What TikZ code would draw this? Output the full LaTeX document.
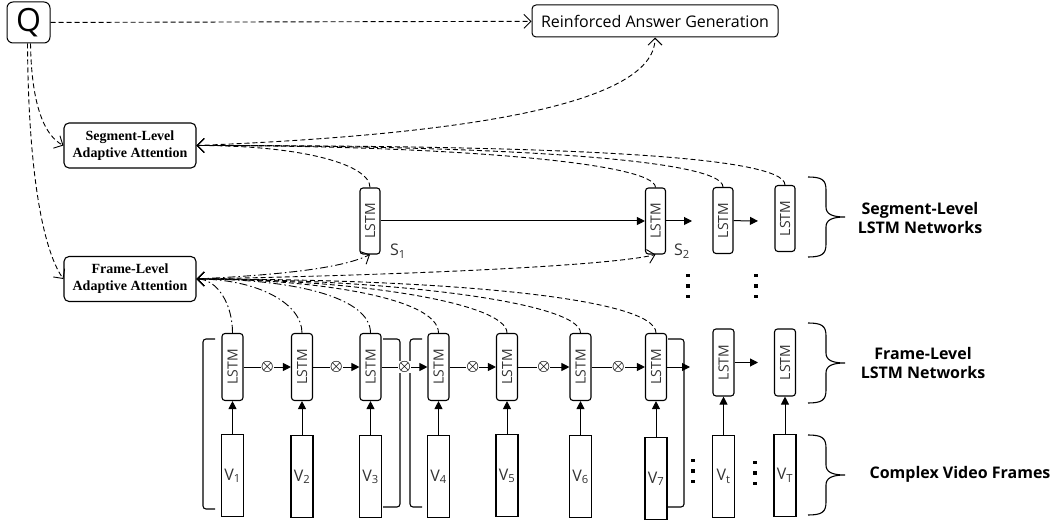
\documentclass[tikz,border=0pt]{standalone}
\usepackage{fontspec}
\setsansfont{Open Sans}
\newfontfamily\fonteSerif{Liberation Serif}
\usepackage{graphicx}
\usepackage{tikz}
\usetikzlibrary{arrows.meta,positioning}
\tikzset{
    celula/.style={
        draw,
        rounded corners=3pt,
        line width=1.1pt,
        minimum width=20pt,
        minimum height=66pt,
        inner sep=0pt,
        text=black!80,
        font=\sffamily\fontsize{14}{14}\selectfont
    },
    quadro/.style={
        draw,
        line width=1.2pt,
        minimum width=22pt,
        minimum height=82pt,
        inner sep=0pt,
        text=black!80,
        font=\sffamily\fontsize{16}{16}\selectfont
    },
    atencao/.style={
        draw,
        rounded corners=5pt,
        line width=1.1pt,
        minimum width=132pt,
        minimum height=45pt,
        align=center,
        font=\fonteSerif\bfseries\fontsize{14}{17}\selectfont
    },
    caixa/.style={draw, rounded corners=4pt, line width=1pt, inner sep=0pt, font=\sffamily},
    rotulo/.style={font=\sffamily\bfseries\fontsize{16}{19}\selectfont, align=center},
    estado/.style={font=\sffamily\fontsize{16}{16}\selectfont, text=black!80},
    produto/.style={inner sep=0pt, fill=white, font=\boldmath\fontsize{15}{15}\selectfont},
    fluxo/.style={-{Triangle[length=8pt,width=8pt]}, line width=1pt},
    tracejado/.style={-{Straight Barb[length=7pt,width=14pt]}, line width=0.9pt, dash pattern=on 5pt off 3pt},
    pontotraco/.style={-{Straight Barb[length=7pt,width=14pt]}, line width=0.9pt, dash pattern=on 8pt off 3pt on 1.5pt off 3pt},
    colchete/.style={line width=1.1pt, rounded corners=3pt},
    chave/.pic={
        \draw[line width=1.1pt] (0,0) .. controls (14,0) and (18,3) .. (18,13) -- (18,30)
            .. controls (18,37) and (24,40) .. (37,40) .. controls (24,40) and (18,43) .. (18,50)
            -- (18,67) .. controls (18,77) and (14,80) .. (0,80);
    },
    pontos/.pic={
        \fill (-1.7,-12.2) rectangle (1.7,-8.8);
        \fill (-1.7,-1.7) rectangle (1.7,1.7);
        \fill (-1.7,8.8) rectangle (1.7,12.2);
    }
}

\begin{document}
\begin{tikzpicture}[x=1pt, y=-1pt]
        \useasboundingbox (0,0) rectangle (1055,521);

        % topo
        \node[caixa, rounded corners=6pt, minimum width=43pt, minimum height=41pt, font=\sffamily\fontsize{32}{32}\selectfont] (pergunta) at (28.5,22.5) {Q};
        \node[caixa, minimum width=246pt, minimum height=32pt, font=\sffamily\fontsize{16}{16}\selectfont] (resposta) at (655,21) {Reinforced Answer Generation};
        \node[atencao] (atSeg) at (130,145.5) {Segment-Level\\Adaptive Attention};
        \node[atencao] (atQuadro) at (130,279) {Frame-Level\\Adaptive Attention};

        % LSTM de segmentos
        \node[celula] (s1) at (370,221) {\rotatebox{90}{LSTM}};
        \node[celula] (s2) at (655.5,221) {\rotatebox{90}{LSTM}};
        \node[celula] (s3) at (723,220.5) {\rotatebox{90}{LSTM}};
        \node[celula] (s4) at (785,218.5) {\rotatebox{90}{LSTM}};
        \node[estado] (rotS1) at (398,251) {S\textsubscript{1}};
        \node[estado] (rotS2) at (682,251) {S\textsubscript{2}};
        \coordinate (fimS2) at (692,221);
        \coordinate (fimS3) at (758,221);

        % LSTM de quadros
        \node[celula, minimum width=21pt, minimum height=67pt] (f1) at (232.5,367) {\rotatebox{90}{LSTM}};
        \node[celula, minimum width=21pt, minimum height=67pt] (f2) at (302,367) {\rotatebox{90}{LSTM}};
        \node[celula, minimum width=21pt, minimum height=67pt] (f3) at (370.5,367) {\rotatebox{90}{LSTM}};
        \node[celula, minimum width=21pt, minimum height=67pt] (f4) at (438.5,367) {\rotatebox{90}{LSTM}};
        \node[celula, minimum width=21pt, minimum height=67pt] (f5) at (507,367) {\rotatebox{90}{LSTM}};
        \node[celula, minimum width=21pt, minimum height=67pt] (f6) at (580.5,367) {\rotatebox{90}{LSTM}};
        \node[celula, minimum width=21pt, minimum height=67pt] (f7) at (656,367) {\rotatebox{90}{LSTM}};
        \node[celula, minimum width=21pt, minimum height=67pt] (ft) at (723.5,362.5) {\rotatebox{90}{LSTM}};
        \node[celula, minimum width=21pt, minimum height=67pt] (fT) at (785,362.5) {\rotatebox{90}{LSTM}};
        \coordinate (fim7) at (690,367);
        \coordinate (fimt) at (758,362.5);

        % quadros do video
        \node[quadro, below=33pt of f1] (v1) {V\textsubscript{1}};
        \node[quadro, below=34pt of f2] (v2) {V\textsubscript{2}};
        \node[quadro, below=34pt of f3] (v3) {V\textsubscript{3}};
        \node[quadro, below=34pt of f4] (v4) {V\textsubscript{4}};
        \node[quadro, below=33pt of f5] (v5) {V\textsubscript{5}};
        \node[quadro, below=34pt of f6] (v6) {V\textsubscript{6}};
        \node[quadro, below=36pt of f7] (v7) {V\textsubscript{7}};
        \node[quadro, below=38pt of ft] (vt) {V\textsubscript{t}};
        \node[quadro, below=37pt of fT] (vT) {V\textsubscript{T}};

        \pic at (688,286) {pontos};
        \pic at (756,286) {pontos};
        \pic at (693,471) {pontos};
        \pic at (755,473) {pontos};

        % rotulos da direita
        \node[rotulo] (rotSeg) at (920,218) {Segment-Level\\LSTM Networks};
        \node[rotulo] (rotQuadro) at (923,363) {Frame-Level\\LSTM Networks};
        \node[rotulo] (rotVideo) at (960,474) {Complex Video Frames};
        \pic at (808,177) {chave};
        \pic at (808,323) {chave};
        \pic at (808,435) {chave};

        % colchetes dos segmentos
        \draw[colchete] (215,339) -- (203,339) -- (203,509) -- (215,509);
        \draw[colchete] (383,339) -- (400,339) -- (400,507) -- (383,507);
        \draw[colchete] (422,339) -- (410,339) -- (410,507) -- (422,507);
        \draw[colchete] (668,339) -- (684,339) -- (684,507) -- (668,507);

        % fluxos solidos
        \draw[fluxo] (v1) -- (f1);
        \draw[fluxo] (v2) -- (f2);
        \draw[fluxo] (v3) -- (f3);
        \draw[fluxo] (v4) -- (f4);
        \draw[fluxo] (v5) -- (f5);
        \draw[fluxo] (v6) -- (f6);
        \draw[fluxo] (v7) -- (f7);
        \draw[fluxo] (vt) -- (ft);
        \draw[fluxo] (vT) -- (fT);
        \draw[fluxo] (f1) -- node[produto] {$\otimes$} (f2);
        \draw[fluxo] (f2) -- node[produto] {$\otimes$} (f3);
        \draw[fluxo] (f3) -- node[produto] {$\otimes$} (f4);
        \draw[fluxo] (f4) -- node[produto] {$\otimes$} (f5);
        \draw[fluxo] (f5) -- node[produto] {$\otimes$} (f6);
        \draw[fluxo] (f6) -- node[produto] {$\otimes$} (f7);
        \draw[fluxo] (f7) -- (fim7);
        \draw[fluxo] (ft) -- (fimt);
        \draw[fluxo] (s1) -- (s2);
        \draw[fluxo] (s2) -- (fimS2);
        \draw[fluxo] (s3) -- (fimS3);

        % atencao
        \draw[tracejado] (pergunta) -- (resposta);
        \draw[tracejado] ([xshift=2pt]pergunta.south) .. controls +(1,62) and +(-19,-10) .. (atSeg.west);
        \draw[tracejado] ([xshift=-1pt]pergunta.south) .. controls +(1,150) and +(-16,-22) .. (atQuadro.west);
        \draw[tracejado] (atSeg.east) .. controls +(250,-10) and +(0,70) .. (resposta.south);
        \draw[tracejado] (s1.north) .. controls +(0,-22) and +(110,0) .. (atSeg.east);
        \draw[tracejado] (s2.north) .. controls +(0,-25) and +(250,0) .. (atSeg.east);
        \draw[tracejado] (s3.north) .. controls +(0,-28) and +(300,0) .. (atSeg.east);
        \draw[tracejado] (s4.north) .. controls +(0,-30) and +(350,0) .. (atSeg.east);
        \draw[pontotraco] (f1.north) .. controls +(0,-30) and +(20,0) .. (atQuadro.east);
        \draw[pontotraco] (f2.north) .. controls +(0,-30) and +(60,0) .. (atQuadro.east);
        \draw[pontotraco] (f3.north) .. controls +(0,-35) and +(100,0) .. (atQuadro.east);
        \draw[tracejado] (f4.north) .. controls +(0,-35) and +(120,0) .. (atQuadro.east);
        \draw[tracejado] (f5.north) .. controls +(0,-30) and +(160,0) .. (atQuadro.east);
        \draw[tracejado] (f6.north) .. controls +(0,-30) and +(200,0) .. (atQuadro.east);
        \draw[tracejado] (f7.north) .. controls +(0,-35) and +(250,0) .. (atQuadro.east);
        \draw[pontotraco] (atQuadro.east) .. controls +(100,-5) and +(-25,12) .. (s1.south);
        \draw[tracejado] (atQuadro.east) .. controls +(250,-5) and +(-40,10) .. (s2.south);
    \end{tikzpicture}
\end{document}
